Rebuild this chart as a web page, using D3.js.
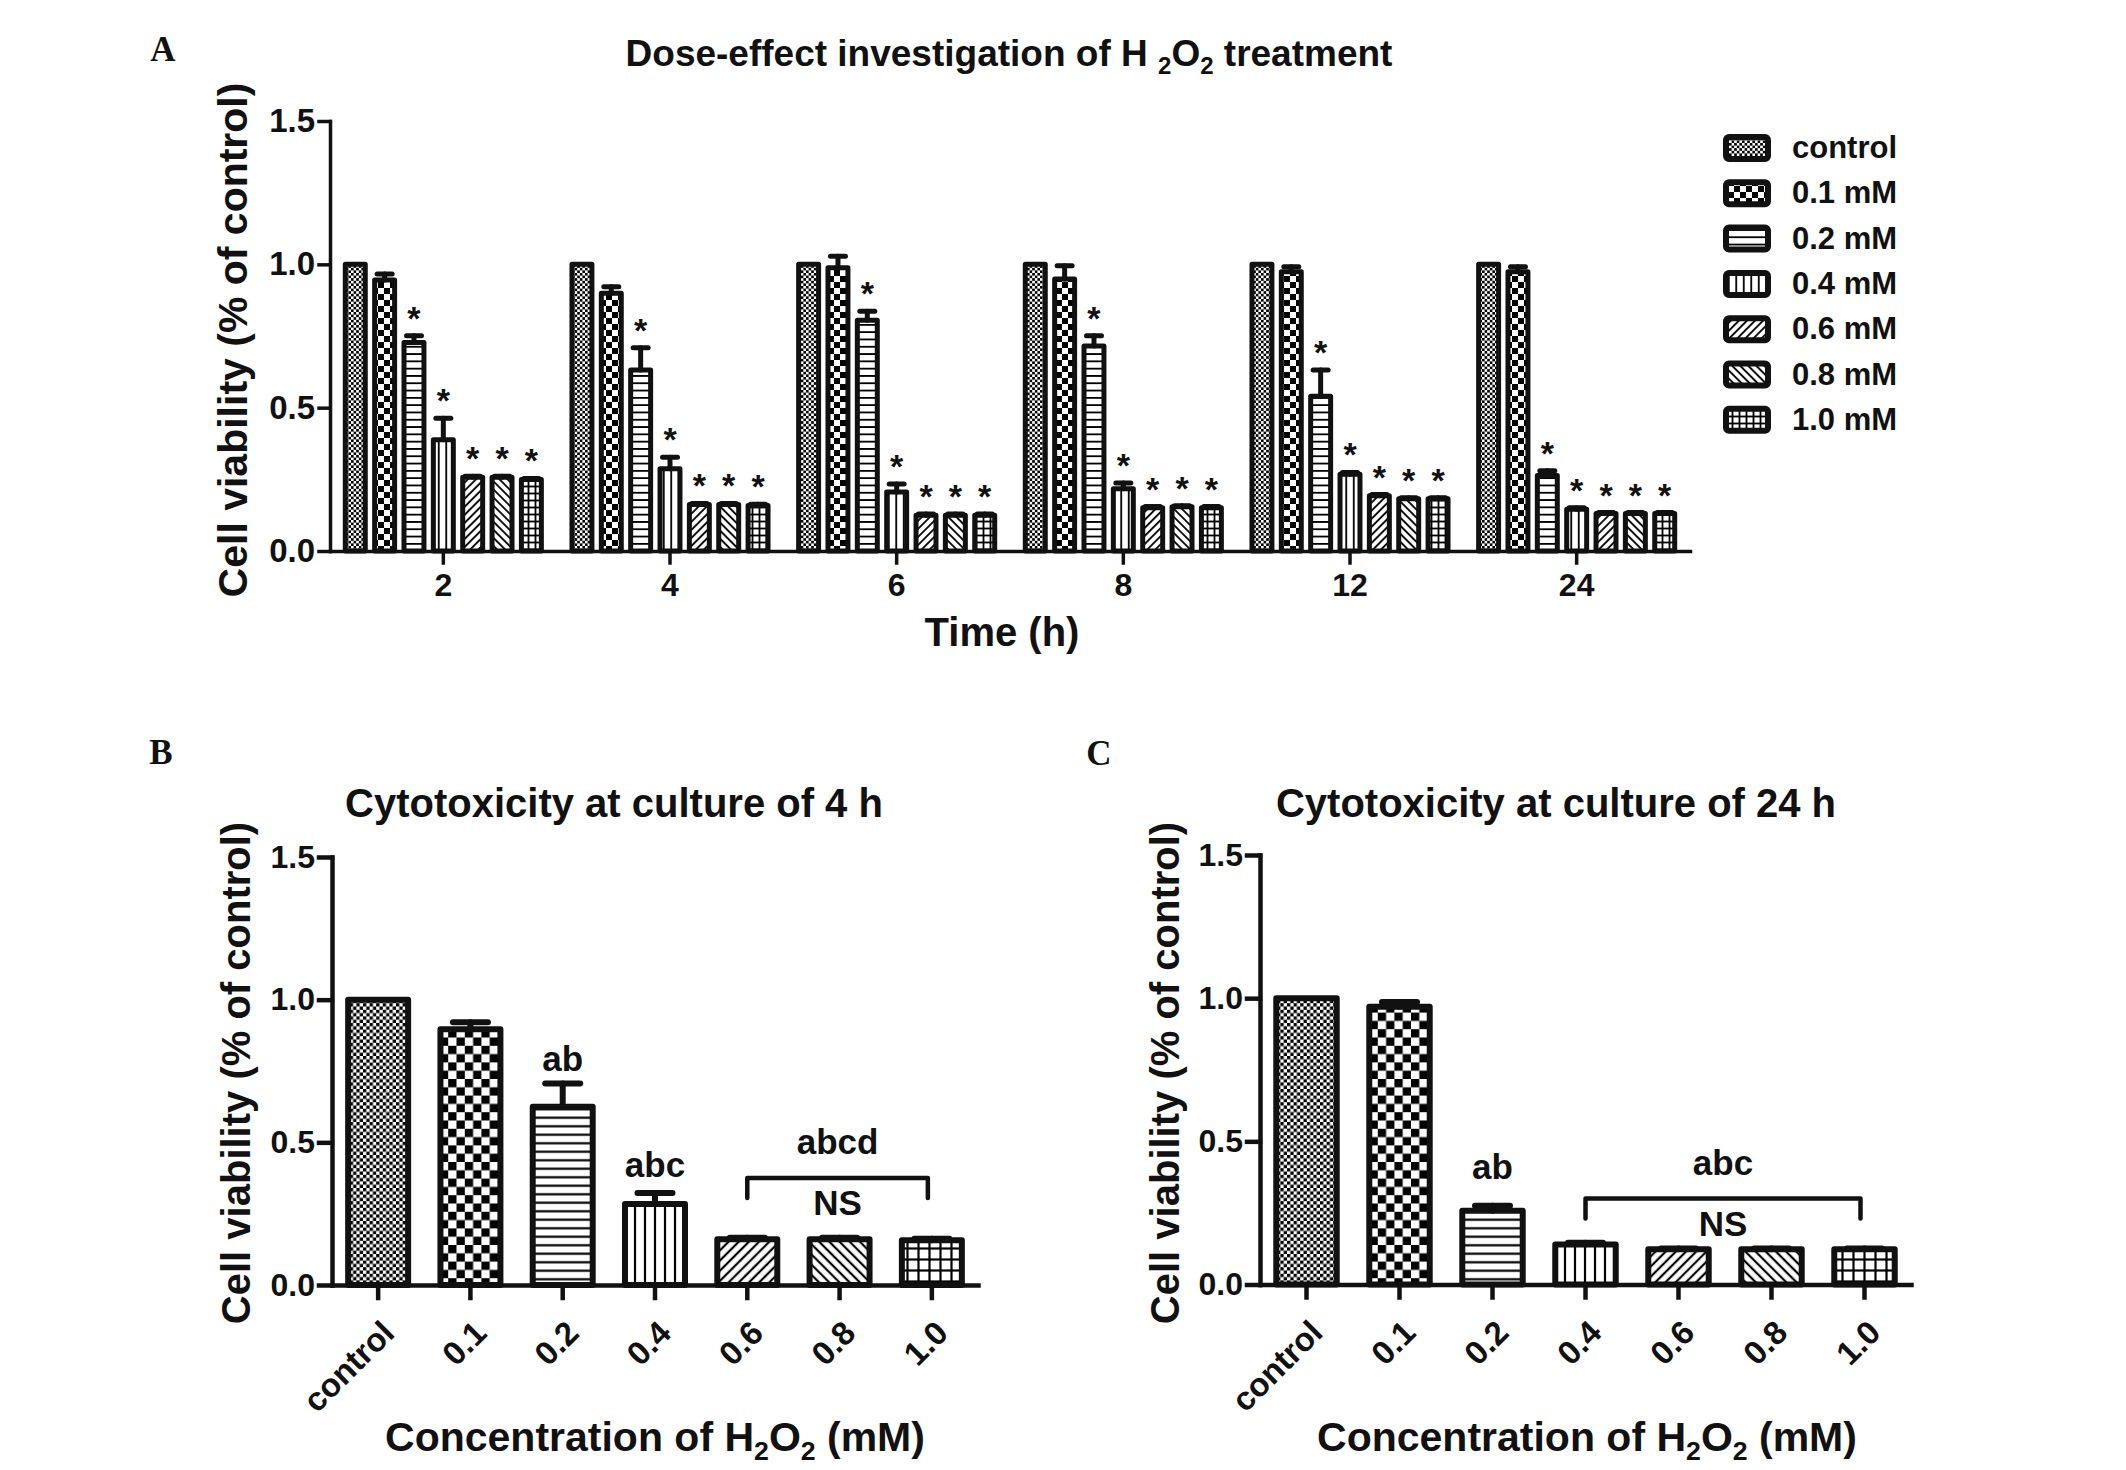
<!DOCTYPE html>
<html>
<head>
<meta charset="utf-8">
<script src="https://cdnjs.cloudflare.com/ajax/libs/d3/7.8.5/d3.min.js"></script>
<style>
  body { margin: 0; background: #fff; }
  text { font-family: "Liberation Sans", Arial, sans-serif; font-weight: bold; fill: #111; }
</style>
</head>
<body>
<svg id="fig" width="2126" height="1470"></svg>
<script>
// ---- data ----
const times = ["2", "4", "6", "8", "12", "24"];
const doses = ["control", "0.1 mM", "0.2 mM", "0.4 mM", "0.6 mM", "0.8 mM", "1.0 mM"];
const doseTicks = ["control", "0.1", "0.2", "0.4", "0.6", "0.8", "1.0"];
const sigDoses = ["0.2 mM", "0.4 mM", "0.6 mM", "0.8 mM", "1.0 mM"];

// panel A: rows = time, cols = dose
const meanA = [
  [1.0, 0.945, 0.727, 0.388, 0.257, 0.257, 0.249],
  [1.0, 0.899, 0.631, 0.287, 0.162, 0.162, 0.159],
  [1.0, 0.988, 0.805, 0.206, 0.125, 0.125, 0.125],
  [1.0, 0.949, 0.715, 0.217, 0.151, 0.154, 0.151],
  [1.0, 0.974, 0.540, 0.268, 0.193, 0.182, 0.182],
  [1.0, 0.974, 0.263, 0.146, 0.131, 0.131, 0.131]
];
const errA = [
  [0, 0.021, 0.024, 0.075, 0.004, 0.004, 0.004],
  [0, 0.023, 0.078, 0.040, 0.004, 0.004, 0.004],
  [0, 0.040, 0.031, 0.028, 0.004, 0.004, 0.004],
  [0, 0.046, 0.036, 0.020, 0.004, 0.004, 0.004],
  [0, 0.018, 0.091, 0.006, 0.004, 0.004, 0.004],
  [0, 0.018, 0.017, 0.005, 0.003, 0.003, 0.003]
];

// panel B (4 h) and C (24 h)
const meanB = [1.0, 0.896, 0.625, 0.284, 0.160, 0.160, 0.157];
const errB  = [0, 0.025, 0.081, 0.038, 0.006, 0.006, 0.005];
const meanC = [1.0, 0.970, 0.258, 0.140, 0.123, 0.123, 0.123];
const errC  = [0, 0.017, 0.017, 0.006, 0.003, 0.003, 0.003];

const lettersB = [{dose: "0.2", text: "ab"}, {dose: "0.4", text: "abc"}];
const bracketB = {from: "0.6", to: "1.0", above: "abcd", below: "NS"};
const lettersC = [{dose: "0.2", text: "ab"}];
const bracketC = {from: "0.4", to: "1.0", above: "abc", below: "NS"};

const yTicks = [0, 0.5, 1.0, 1.5];

// ---- setup ----
const svg = d3.select("#fig");
const defs = svg.append("defs");

//fill patterns, one per dose
function addPatterns(prefix, sz) {
  const pat = (i, w, h, rot) => {
    const p = defs.append("pattern").attr("id", `${prefix}-${i}`)
      .attr("patternUnits", "userSpaceOnUse").attr("width", w).attr("height", h);
    if (rot) p.attr("patternTransform", `rotate(${rot})`);
    p.append("rect").attr("width", w).attr("height", h).attr("fill", "#fff");
    return p;
  };
  const checker = (i, c) => {
    const p = pat(i, 2 * c, 2 * c);
    p.append("rect").attr("width", c).attr("height", c).attr("fill", "#000");
    p.append("rect").attr("x", c).attr("y", c).attr("width", c).attr("height", c).attr("fill", "#000");
  };
  checker(0, sz.fine);
  checker(1, sz.check);
  let p = pat(2, 10, sz.hline);
  p.append("line").attr("x1", 0).attr("x2", 10).attr("y1", sz.hline / 2).attr("y2", sz.hline / 2)
    .attr("stroke", "#000").attr("stroke-width", sz.lw);
  p = pat(3, sz.vline, 10);
  p.append("line").attr("x1", sz.vline / 2).attr("x2", sz.vline / 2).attr("y1", 0).attr("y2", 10)
    .attr("stroke", "#000").attr("stroke-width", sz.lw);
  [[4, 45], [5, -45]].forEach(([i, r]) => {
    const q = pat(i, sz.diag, 10, r);
    q.append("line").attr("x1", sz.diag / 2).attr("x2", sz.diag / 2).attr("y1", 0).attr("y2", 10)
      .attr("stroke", "#000").attr("stroke-width", sz.lw);
  });
  p = pat(6, sz.grid, sz.grid);
  p.append("line").attr("x1", 0).attr("x2", sz.grid).attr("y1", sz.grid / 2).attr("y2", sz.grid / 2)
    .attr("stroke", "#000").attr("stroke-width", sz.lw);
  p.append("line").attr("x1", sz.grid / 2).attr("x2", sz.grid / 2).attr("y1", 0).attr("y2", sz.grid)
    .attr("stroke", "#000").attr("stroke-width", sz.lw);
}
addPatterns("pa", {fine: 2.6, check: 6, hline: 7.3, vline: 7.5, diag: 5.7, grid: 7, lw: 1.8});
addPatterns("pb", {fine: 3.3, check: 8.3, hline: 8.5, vline: 10, diag: 7.2, grid: 11, lw: 2.2});

function styleAxis(g, width, fontSize) {
  g.selectAll("path, line").attr("stroke", "#111").attr("stroke-width", width).attr("stroke-linecap", "square");
  g.attr("font-family", null).attr("font-size", fontSize);
  g.selectAll("text").attr("fill", "#111");
}

function yLabel(x, y, size) {
  svg.append("text")
    .attr("transform", `translate(${x},${y}) rotate(-90)`)
    .attr("text-anchor", "middle")
    .attr("font-size", size)
    .text("Cell viability (% of control)");
}

//text with subscripts, parts: [text, isSubscript]
function subText(sel, parts, fs) {
  let down = false;
  parts.forEach(([t, sub]) => {
    const ts = sel.append("tspan").text(t);
    if (sub) {
      ts.attr("font-size", fs * 0.65).attr("dy", down ? 0 : fs * 0.22);
      down = true;
    } else {
      ts.attr("dy", down ? -fs * 0.22 : 0);
      down = false;
    }
  });
}

function errBars(g, data, xc, y, capW, sw) {
  const eb = g.append("g").attr("stroke", "#111").attr("stroke-width", sw).attr("stroke-linecap", "round");
  const withErr = data.filter(d => d.err > 0);
  eb.append("g").selectAll("line").data(withErr).join("line")
    .attr("x1", xc).attr("x2", xc)
    .attr("y1", d => y(d.mean)).attr("y2", d => y(d.mean + d.err));
  eb.append("g").selectAll("line").data(withErr).join("line")
    .attr("x1", d => xc(d) - capW / 2).attr("x2", d => xc(d) + capW / 2)
    .attr("y1", d => y(d.mean + d.err)).attr("y2", d => y(d.mean + d.err));
}

// ---- panel A ----
{
  const x0 = d3.scaleBand().domain(times).range([330, 1690]).paddingInner(0.135).paddingOuter(0.0675);
  const x1 = d3.scaleBand().domain(doses).range([0, x0.bandwidth()]).paddingInner(0.32);
  const y = d3.scaleLinear().domain([0, 1.5]).range([551, 121]);

  const data = times.flatMap((t, i) => doses.map((d, j) => ({time: t, dose: d, j, mean: meanA[i][j], err: errA[i][j]})));
  const xc = d => x0(d.time) + x1(d.dose) + x1.bandwidth() / 2;

  const g = svg.append("g");
  g.selectAll("rect").data(data).join("rect")
    .attr("x", d => x0(d.time) + x1(d.dose))
    .attr("y", d => y(d.mean))
    .attr("width", x1.bandwidth())
    .attr("height", d => y(0) - y(d.mean))
    .attr("fill", d => `url(#pa-${d.j})`)
    .attr("stroke", "#111").attr("stroke-width", 5).attr("stroke-linejoin", "round");

  errBars(g, data, xc, y, 15, 5);

  g.append("g").selectAll("text").data(data.filter(d => sigDoses.includes(d.dose))).join("text")
    .attr("x", xc).attr("y", d => y(d.mean + d.err) - 6)
    .attr("text-anchor", "middle").attr("font-size", 34).text("*");

  const ax = svg.append("g").attr("transform", `translate(0,${y(0)})`)
    .call(d3.axisBottom(x0).tickSize(12).tickSizeOuter(0));
  styleAxis(ax, 3.5, 32);
  ax.selectAll("text").attr("y", 45).attr("dy", 0);

  const ay = svg.append("g").attr("transform", "translate(330,0)")
    .call(d3.axisLeft(y).tickValues(yTicks).tickFormat(d3.format(".1f")).tickSize(11).tickSizeOuter(0).tickPadding(4));
  styleAxis(ay, 3.5, 33);

  const title = svg.append("text").attr("x", 1009).attr("y", 66).attr("text-anchor", "middle").attr("font-size", 37);
  subText(title, [["Dose-effect investigation of H ", false], ["2", true], ["O", false], ["2", true], [" treatment", false]], 37);

  svg.append("text").attr("x", 1002).attr("y", 646).attr("text-anchor", "middle").attr("font-size", 40).text("Time (h)");
  yLabel(247, 340, 41);

  //legend
  const lg = svg.append("g");
  const rowY = i => 148 + 45.3 * i;
  lg.selectAll("rect").data(doses).join("rect")
    .attr("x", 1726).attr("y", (d, i) => rowY(i) - 11)
    .attr("width", 42).attr("height", 22).attr("rx", 3)
    .attr("fill", (d, i) => `url(#pa-${i})`)
    .attr("stroke", "#111").attr("stroke-width", 6);
  lg.selectAll("text").data(doses).join("text")
    .attr("x", 1792).attr("y", (d, i) => rowY(i) + 10)
    .attr("font-size", 31).text(d => d);
}

// ---- panels B and C ----
function drawSingle(cfg) {
  const x = d3.scaleBand().domain(doseTicks).range(cfg.xRange).paddingInner(0.35).paddingOuter(0.175);
  const y = d3.scaleLinear().domain([0, 1.5]).range(cfg.yRange);
  const data = doseTicks.map((d, j) => ({dose: d, j, mean: cfg.mean[j], err: cfg.err[j]}));
  const xc = d => x(d.dose) + x.bandwidth() / 2;

  const g = svg.append("g");
  g.selectAll("rect").data(data).join("rect")
    .attr("x", d => x(d.dose)).attr("y", d => y(d.mean))
    .attr("width", x.bandwidth()).attr("height", d => y(0) - y(d.mean))
    .attr("fill", d => `url(#pb-${d.j})`)
    .attr("stroke", "#111").attr("stroke-width", 6).attr("stroke-linejoin", "round");

  errBars(g, data, xc, y, 35, 6);

  //significance letters
  g.append("g").selectAll("text").data(cfg.letters).join("text")
    .attr("x", d => xc(data[doseTicks.indexOf(d.dose)]))
    .attr("y", (d, i) => {
      const k = doseTicks.indexOf(d.dose);
      return y(cfg.mean[k] + cfg.err[k]) - cfg.letterGap[i];
    })
    .attr("text-anchor", "middle").attr("font-size", 35).text(d => d.text);

  //bracket
  const b = cfg.bracket;
  const bx1 = x(b.from) + x.bandwidth() / 2, bx2 = x(b.to) + x.bandwidth() / 2 - 4;
  const by = y(cfg.bracketLevel);
  g.append("path")
    .attr("d", `M${bx1},${by + 20}V${by}H${bx2}V${by + 20}`)
    .attr("fill", "none").attr("stroke", "#111").attr("stroke-width", 4.5)
    .attr("stroke-linecap", "round").attr("stroke-linejoin", "round");
  g.append("text").attr("x", (bx1 + bx2) / 2).attr("y", by - 24).attr("text-anchor", "middle").attr("font-size", 35).text(b.above);
  g.append("text").attr("x", (bx1 + bx2) / 2).attr("y", by + 37).attr("text-anchor", "middle").attr("font-size", 35).text(b.below);

  const ax = svg.append("g").attr("transform", `translate(0,${y(0)})`)
    .call(d3.axisBottom(x).tickSize(13).tickSizeOuter(0));
  styleAxis(ax, 4.5, 33);
  ax.selectAll("text").attr("x", 0).attr("y", 0).attr("dy", 0)
    .attr("text-anchor", "end").attr("transform", "translate(18,50) rotate(-45)");

  const ay = svg.append("g").attr("transform", `translate(${cfg.xRange[0]},0)`)
    .call(d3.axisLeft(y).tickValues(yTicks).tickFormat(d3.format(".1f")).tickSize(13).tickSizeOuter(0).tickPadding(4));
  styleAxis(ay, 4.5, 32);

  svg.append("text").attr("x", cfg.titleX).attr("y", 817).attr("text-anchor", "middle").attr("font-size", 40).text(cfg.title);

  const xt = svg.append("text").attr("x", cfg.titleX + cfg.xTitleShift).attr("y", 1451).attr("text-anchor", "middle").attr("font-size", 41);
  subText(xt, [["Concentration of H", false], ["2", true], ["O", false], ["2", true], [" (mM)", false]], 41);

  yLabel(cfg.yLabelX, 1073, 40);
}

drawSingle({xRange: [332, 978], yRange: [1285, 857], mean: meanB, err: errB,
  letters: lettersB, letterGap: [13, 16], bracket: bracketB, bracketLevel: 0.375,
  title: "Cytotoxicity at culture of 4 h", titleX: 614, xTitleShift: 41, yLabelX: 250});
drawSingle({xRange: [1260, 1911], yRange: [1284.5, 855], mean: meanC, err: errC,
  letters: lettersC, letterGap: [27], bracket: bracketC, bracketLevel: 0.30,
  title: "Cytotoxicity at culture of 24 h", titleX: 1556, xTitleShift: 31, yLabelX: 1179});

// panel letters
[["A", 163, 61], ["B", 161, 764], ["C", 1099, 765]].forEach(([t, px, py]) => {
  svg.append("text").attr("x", px).attr("y", py).attr("text-anchor", "middle")
    .style("font-family", "'Liberation Serif', 'Times New Roman', serif").attr("font-size", 35).text(t);
});
</script>
</body>
</html>
